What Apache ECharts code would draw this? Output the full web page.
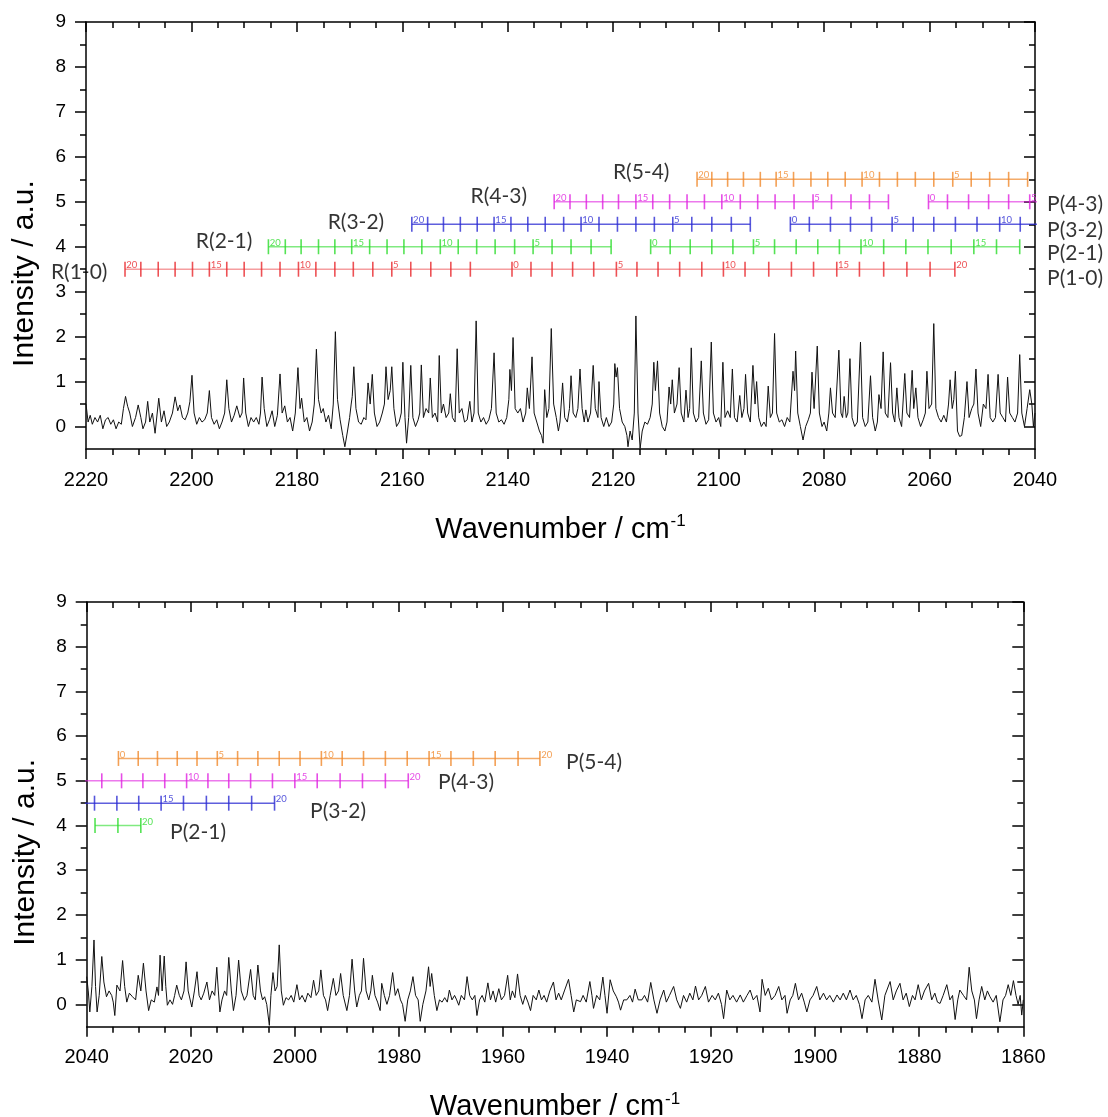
<!DOCTYPE html>
<html><head><meta charset="utf-8">
<script src="https://cdn.jsdelivr.net/npm/echarts@6/dist/echarts.min.js"></script>
<style>html,body{margin:0;padding:0;background:#fff}#c{width:1108px;height:1117px}</style>
</head><body><div id="c"></div>
<script>
// ---------------- DATA ----------------
const topSpectrum = [
[2220,0.5],[2219.6,0.1],[2219.2,0.25],[2218.8,0.05],[2218.3,0.2],[2217.8,0.1],[2217.3,0.25],[2216.8,-0.05],[2216.3,0.15],[2215.8,0.2],[2215.3,0.05],[2214.8,0.15],[2214.3,-0.05],[2213.8,0.1],[2213.3,0.05],[2212.9,0.4],[2212.5,0.67],[2212.1,0.45],[2211.7,0.3],[2211.2,0],[2210.6,0.2],[2210.1,0.48],[2209.6,0.2],[2209.2,-0.05],[2208.7,0.1],[2208.3,0.56],[2207.9,0.1],[2207.4,0.3],[2206.9,-0.15],[2206.2,0.63],[2205.7,0.1],[2205.2,0.35],[2204.7,0],[2204.2,0.1],[2203.6,0.3],[2203.1,0.66],[2202.6,0.35],[2202.2,0.48],[2201.7,0.2],[2201.2,0.15],[2200.7,0.3],[2200.3,0.55],[2199.9,1.14],[2199.5,0.3],[2199,0.05],[2198.5,0.2],[2198,0.1],[2197.5,0.15],[2197,0.3],[2196.6,0.8],[2196.2,0.2],[2195.7,0.05],[2195.2,0.15],[2194.7,-0.05],[2194.2,0.1],[2193.7,0.3],[2193.3,1.04],[2192.9,0.4],[2192.4,0.1],[2191.9,0.25],[2191.4,0.46],[2190.8,0.2],[2190.4,0.3],[2190.1,1.08],[2189.7,0.3],[2189.2,0],[2188.7,0.2],[2188.2,0.1],[2187.7,0.2],[2187.2,0.05],[2186.9,0.3],[2186.6,1.1],[2186.2,0.4],[2185.7,0],[2185.2,0.15],[2184.7,0.35],[2184.2,0],[2183.7,0.25],[2183.2,1.17],[2182.8,0.3],[2182.3,0.46],[2181.8,0.1],[2181.3,0.2],[2180.8,-0.1],[2180.3,0.3],[2179.8,1.31],[2179.4,0.4],[2179.1,0.63],[2178.6,0.1],[2178.1,0.2],[2177.6,-0.1],[2177.1,0.1],[2176.7,0.5],[2176.3,1.72],[2175.9,0.6],[2175.4,0.3],[2175,0.4],[2174.5,0.1],[2174,0.25],[2173.5,-0.05],[2173.1,0.5],[2172.7,2.11],[2172.3,0.6],[2171.8,0.15],[2171.3,-0.2],[2170.9,-0.45],[2170.4,-0.1],[2170,0.2],[2169.7,0.5],[2169.5,0.67],[2169.2,1.33],[2168.8,0.4],[2168.3,0.1],[2167.8,0.05],[2167.3,0.2],[2166.9,0.15],[2166.5,0.97],[2166.1,0.5],[2165.7,1.16],[2165.3,0.3],[2164.8,0],[2164.3,0.1],[2163.8,0.3],[2163.4,0.5],[2163.1,1.33],[2162.7,0.6],[2162.3,0.8],[2162,1.33],[2161.6,0.4],[2161.1,0],[2160.6,0.1],[2160.2,0.3],[2159.9,1.43],[2159.5,0.2],[2159.2,-0.37],[2158.8,0.2],[2158.4,1.36],[2158,0.2],[2157.5,0],[2157,0.15],[2156.7,0.3],[2156.4,1.37],[2156,0.2],[2155.5,0.4],[2155,0.3],[2154.7,1.08],[2154.3,0.2],[2153.8,0.3],[2153.3,0.1],[2153,1.58],[2152.6,0.3],[2152.2,0.5],[2151.7,0.2],[2151.2,0.3],[2150.9,0.73],[2150.5,0.2],[2150,0.1],[2149.6,1.73],[2149.2,0.3],[2148.7,0.4],[2148.2,0.1],[2147.7,0.15],[2147.2,0.56],[2146.8,0.1],[2146.4,0.3],[2146,2.35],[2145.6,0.3],[2145.1,0.1],[2144.6,0.2],[2144.1,0.05],[2143.6,0.15],[2143.1,0.4],[2142.6,1.64],[2142.2,0.3],[2141.7,0.1],[2141.2,0.15],[2140.7,0.05],[2140.2,0.2],[2139.8,0.6],[2139.6,1.27],[2139.3,0.8],[2139,1.98],[2138.6,0.4],[2138.1,0.3],[2137.6,0.4],[2137.1,0.1],[2136.6,0.3],[2136.3,0.86],[2135.9,0.4],[2135.4,1.55],[2135,0.3],[2134.5,0.1],[2134,-0.1],[2133.6,-0.2],[2133.3,-0.37],[2133,0.82],[2132.6,0.2],[2132.2,0.4],[2131.75,2.18],[2131.3,0.5],[2130.8,0.2],[2130.4,-0.1],[2130.1,0.1],[2129.6,0.97],[2129.2,0.2],[2128.7,0.1],[2128.3,0.4],[2128,1.13],[2127.6,0.3],[2127.1,0.2],[2126.7,0.4],[2126.3,1.28],[2125.9,0.4],[2125.5,0.1],[2125.2,0.37],[2124.8,0.1],[2124.3,0.3],[2123.8,1.36],[2123.4,0.4],[2122.9,0.2],[2122.7,1.0],[2122.3,0.2],[2121.8,0],[2121.3,0.2],[2120.8,0],[2120.3,0.1],[2119.9,0.5],[2119.7,1.4],[2119.45,1.1],[2119.2,1.31],[2118.8,0.4],[2118.3,0.1],[2117.8,0],[2117.4,-0.2],[2117.2,-0.45],[2116.8,-0.1],[2116.4,-0.3],[2116,0.3],[2115.7,2.46],[2115.3,0.3],[2114.9,-0.49],[2114.5,-0.1],[2114,0.1],[2113.5,0.05],[2113,0.2],[2112.6,0.5],[2112.3,1.43],[2112,0.8],[2111.6,1.46],[2111.2,0.3],[2110.7,0],[2110.2,-0.1],[2109.8,0.1],[2109.4,0.88],[2109.1,0.5],[2108.8,1.04],[2108.4,0.3],[2107.9,0.5],[2107.5,1.31],[2107.1,0.3],[2106.6,0.1],[2106.2,0.81],[2105.8,0.2],[2105.5,0.4],[2105.2,1.75],[2104.8,0.3],[2104.3,0.1],[2103.8,0.2],[2103.3,1.46],[2102.9,0.3],[2102.4,0.05],[2101.9,0.15],[2101.4,1.88],[2101,0.3],[2100.5,0.1],[2100,0.2],[2099.6,0],[2099.2,1.43],[2098.8,0.2],[2098.3,0.35],[2097.8,0.2],[2097.4,1.28],[2097,0.2],[2096.5,0.1],[2096,0.69],[2095.6,0.2],[2095.2,0.4],[2094.9,1.16],[2094.5,0.3],[2094,0.1],[2093.5,1.36],[2093.1,0.5],[2092.8,1.0],[2092.4,0.2],[2091.9,0],[2091.4,0.1],[2091,0],[2090.6,0.9],[2090.2,0.2],[2089.8,0.3],[2089.4,2.07],[2089,0.3],[2088.5,0.1],[2088,0.15],[2087.5,0],[2087,0.2],[2086.5,0.1],[2085.9,1.23],[2085.6,0.8],[2085.4,1.68],[2085,0.3],[2084.5,0],[2084,-0.3],[2083.5,0],[2083,0.15],[2082.6,0.3],[2082.3,1.21],[2081.9,0.4],[2081.3,1.79],[2080.9,0.3],[2080.4,0],[2080,0.1],[2079.5,-0.1],[2079.1,0.3],[2078.8,0.86],[2078.4,0.3],[2077.9,0.2],[2077.2,1.7],[2076.8,0.3],[2076.5,0.2],[2076.2,0.67],[2075.8,0.2],[2075.5,0.3],[2075.1,1.51],[2074.7,0.2],[2074.2,0],[2073.7,0.1],[2073.1,1.88],[2072.7,0.2],[2072.2,0],[2071.7,0.1],[2071.2,1.13],[2070.8,0.2],[2070.3,-0.1],[2069.9,0.1],[2069.6,0.71],[2069.2,0.4],[2068.8,1.66],[2068.4,0.3],[2067.9,0.2],[2067.4,1.42],[2067,0.3],[2066.6,0.1],[2066.2,0.86],[2065.8,0.2],[2065.3,0],[2064.7,1.18],[2064.3,0.3],[2063.8,0.2],[2063.3,1.25],[2063,0.4],[2062.6,0.86],[2062.2,0.2],[2061.7,0],[2061.2,0.15],[2060.8,0.3],[2060.5,1.23],[2060.1,0.4],[2059.6,0.5],[2059.2,2.29],[2058.8,0.4],[2058.3,0.2],[2057.8,0.1],[2057.3,0.25],[2056.8,0.1],[2056.4,0.5],[2056.1,1.04],[2055.7,0.4],[2055.4,0.6],[2055.1,1.23],[2054.7,-0.1],[2054.3,-0.22],[2053.9,-0.2],[2053.4,0.2],[2052.9,1.0],[2052.5,0.2],[2052,0.4],[2051.6,0.5],[2051.2,1.28],[2050.8,0.3],[2050.3,0],[2049.8,0.5],[2049.3,0.4],[2048.9,1.16],[2048.5,0.2],[2048,0.1],[2047.5,0.2],[2047,1.16],[2046.6,0.3],[2046.1,0.2],[2045.6,0.1],[2045.2,1.1],[2044.8,0.3],[2044.3,0.2],[2043.8,0.1],[2043.3,0.3],[2042.9,1.6],[2042.5,0.3],[2042,0],[2041.5,0.4],[2041,0.82],[2040.6,0.5],[2040.3,0],[2040,0.3]
];
const bottomSpectrum = [
[2040,0.62],[2039.7,0.3],[2039.4,-0.17],[2039,0.4],[2038.6,1.44],[2038.3,0.4],[2038,-0.17],[2037.6,0.2],[2037.1,1.07],[2036.7,0.5],[2036.2,0.17],[2035.7,0.3],[2035.2,0.2],[2034.9,0.05],[2034.6,-0.25],[2034.2,0.43],[2033.6,0.3],[2033.1,0.98],[2032.7,0.4],[2032.3,0.05],[2031.8,0.25],[2031.2,0.17],[2030.6,0.1],[2030.1,0.65],[2029.6,0.3],[2029.1,0.92],[2028.6,0.3],[2028.1,-0.14],[2027.6,0.1],[2027,0.05],[2026.5,0.39],[2026.2,0.2],[2025.9,1.1],[2025.5,0.3],[2025.1,1.08],[2024.8,0.4],[2024.5,-0.02],[2024,0.1],[2023.5,0],[2023.1,0.2],[2022.7,0.43],[2022.2,0.2],[2021.8,0.1],[2021.3,0.3],[2020.9,0.95],[2020.5,0.3],[2019.8,-0.06],[2019.3,0.3],[2018.8,0.73],[2018.4,0.2],[2018,0.1],[2017.5,0.25],[2016.9,0.5],[2016.4,0.1],[2015.9,0.3],[2015.4,0.2],[2015,0.83],[2014.7,0.3],[2014.4,-0.17],[2014,0.1],[2013.5,0.3],[2013.1,0.2],[2012.7,1.05],[2012.2,0.3],[2011.8,-0.14],[2011.3,0.2],[2010.8,0.99],[2010.3,0.3],[2009.7,0.09],[2009.2,0.2],[2008.5,0.78],[2008,0.2],[2007.6,0.1],[2007.1,0.88],[2006.6,0.3],[2006.2,0.1],[2005.8,0.17],[2005.4,0],[2004.9,-0.47],[2004.6,0.2],[2004.2,0.71],[2003.8,0.3],[2003.4,0.4],[2003,1.33],[2002.6,0.3],[2002.2,-0.02],[2001.7,0.15],[2001.2,0.1],[2000.7,0.2],[2000.2,0.05],[1999.6,0.44],[1999.1,0.1],[1998.6,0.2],[1998,0.05],[1997.5,0.25],[1996.9,0.15],[1996.4,0.54],[1995.9,0.2],[1995.4,0.3],[1995,0.77],[1994.5,0.2],[1994.1,0.1],[1993.7,-0.14],[1993.2,0.2],[1992.6,0.58],[1992.1,0.2],[1991.6,0.3],[1991.2,0.69],[1990.7,0.2],[1990,-0.14],[1989.5,0.2],[1989,1.01],[1988.5,0.3],[1988.1,-0.06],[1987.6,0.2],[1987.2,0.3],[1986.8,1.03],[1986.3,0.3],[1985.8,0.1],[1985.4,0.3],[1985.1,0.65],[1984.6,0.2],[1984.1,0.05],[1983.6,-0.14],[1983.3,0.47],[1982.8,0.2],[1982.3,0],[1981.8,0.2],[1981.2,0.71],[1980.7,0.2],[1980.2,0.35],[1979.7,0.1],[1979.3,0],[1978.8,-0.38],[1978.3,0.1],[1977.8,0.3],[1977.3,0.62],[1976.8,0.2],[1976.3,0.1],[1975.9,-0.38],[1975.4,0],[1974.8,0.3],[1974.3,0.84],[1974,0.4],[1973.7,0.69],[1973.2,0.2],[1972.7,-0.14],[1972.2,0.1],[1971.7,0.05],[1971.2,0.15],[1970.7,0.05],[1970.3,0.32],[1969.8,0.1],[1969.3,0.2],[1968.9,0.1],[1968.5,-0.02],[1968,0.2],[1967.4,0.1],[1966.9,0.62],[1966.4,0.2],[1965.9,0.1],[1965.4,0.2],[1965,-0.25],[1964.5,0.1],[1964,0.2],[1963.5,0.05],[1962.9,0.48],[1962.4,0.1],[1961.9,0.3],[1961.4,0.05],[1960.8,0.35],[1960.3,0.1],[1959.7,0.2],[1959.1,0.65],[1958.6,0.1],[1958.2,0.3],[1957.7,0.15],[1957.2,0.68],[1956.7,0.2],[1956.2,0],[1955.7,0.2],[1955.2,0.05],[1954.7,-0.14],[1954.2,0.2],[1953.6,0.1],[1953.1,0.32],[1952.6,0.1],[1952.1,0.2],[1951.6,0.05],[1951,0.3],[1950.3,0.5],[1949.8,0.1],[1949.3,0.25],[1948.8,0.1],[1948.2,0.3],[1947.4,0.56],[1946.9,0.2],[1946.4,-0.17],[1945.9,0.1],[1945.1,0.06],[1944.6,0.2],[1944,0.05],[1943.3,0.51],[1942.9,0.2],[1942.6,-0.09],[1942,0.2],[1941.4,0.1],[1940.8,0.61],[1940.4,0.2],[1940,-0.2],[1939.4,0.55],[1938.8,0.3],[1938.2,0.17],[1937.8,0.05],[1937.4,-0.13],[1936.8,0.1],[1936.2,0.1],[1935.6,0.2],[1935.1,0.05],[1934.6,0.34],[1934,0.1],[1933.3,0.1],[1932.8,0.2],[1932.2,0.05],[1931.6,0.49],[1931,0.1],[1930.4,-0.2],[1929.8,0.1],[1929.1,0.32],[1928.6,0.05],[1928,0.2],[1927.2,0.4],[1926.6,0.1],[1925.9,-0.09],[1925.3,0.2],[1924.7,0.05],[1924.1,0.25],[1923.5,0.1],[1923,0.41],[1922.4,0.1],[1921.8,0.2],[1921.1,0.4],[1920.5,0.05],[1919.8,0.2],[1919.2,0.1],[1918.6,0.25],[1918,0],[1917.6,-0.32],[1917,0.32],[1916.4,0.1],[1915.8,0.2],[1915.1,0.05],[1914.4,0.21],[1913.8,0.05],[1913.1,0.2],[1912.5,0.32],[1911.9,0.1],[1911.2,0.2],[1910.6,-0.17],[1910.2,0.56],[1909.6,0.2],[1909,0.36],[1908.4,0.1],[1907.7,0.2],[1907,0.4],[1906.4,0.1],[1905.8,0.2],[1905.4,-0.2],[1904.8,0.1],[1904.3,0.2],[1903.8,0.47],[1903.2,0.1],[1902.6,0.25],[1902.1,0.05],[1901.6,-0.17],[1901,0.1],[1900.4,0.2],[1899.7,0.4],[1899.1,0.1],[1898.4,0.25],[1897.8,0.1],[1897.2,0.2],[1896.5,0.05],[1895.8,0.21],[1895.2,0.1],[1894.6,0.25],[1894,0.1],[1893.3,0.32],[1892.7,0.1],[1892.1,0.2],[1891.5,0],[1891,-0.32],[1890.4,0.1],[1889.8,0.2],[1889.1,0.05],[1888.5,0.56],[1887.9,0.1],[1887.2,-0.35],[1886.6,0.2],[1885.6,0.51],[1885,0.1],[1884.4,0.3],[1883.7,0.47],[1883.1,0.1],[1882.5,0.25],[1881.9,-0.05],[1881.3,0.2],[1880.8,0.1],[1880.2,0.44],[1879.6,0.1],[1879,0.3],[1878.2,0.47],[1877.6,0.1],[1877,0.25],[1876.5,0.05],[1876,0.02],[1875.4,0.2],[1874.7,0.44],[1874.1,0.1],[1873.6,0.2],[1873.1,-0.34],[1872.6,0.1],[1872.2,0.32],[1871.5,0.2],[1870.9,0.1],[1870.4,0.83],[1869.9,0.3],[1869.4,0.1],[1869,-0.32],[1868.5,0.1],[1868,0.4],[1867.4,0.1],[1866.9,0.3],[1866.4,0.17],[1865.8,0.05],[1865.2,0.2],[1864.5,-0.39],[1863.9,0.1],[1863.4,0.2],[1862.9,0.44],[1862.4,0.2],[1861.9,0.53],[1861.4,0.2],[1861,0],[1860.6,0.2],[1860.3,-0.24],[1860,0.1]
];

// Band ladders: R branch listed from the "20" mark downwards, P branch from the "0" mark upwards
const bandNames = ['1-0','2-1','3-2','4-3','5-4'];
const bandRowY  = [3.5, 4.0, 4.5, 5.0, 5.5];
const r10 = [2212.6,2209.6,2206.3,2203.1,2199.8,2196.6,2193.3,2190.0,2186.7,2183.2,2179.7,2176.4,2172.8,2169.3,2165.6,2162.0,2158.4,2154.6,2150.8,2147.1];
const p10 = [2139.2,2135.6,2131.6,2127.7,2123.7,2119.4,2115.5,2111.5,2107.4,2103.2,2099.1,2095.0,2090.5,2086.2,2082.0,2077.6,2073.3,2068.7,2064.3,2059.9,2055.2];
const r21 = [2185.4,2182.2,2179.2,2175.9,2172.8,2169.6,2166.2,2162.9,2159.7,2156.3,2152.8,2149.4,2145.9,2142.4,2138.7,2135.2,2131.6,2128.0,2124.2,2120.4];
const p21 = [2112.9,2109.2,2105.4,2101.3,2097.3,2093.4,2089.4,2085.3,2081.2,2077.1,2073.0,2068.7,2064.5,2060.3,2055.9,2051.6,2047.3,2042.9,2038.4,2034.0,2029.6];
const r32 = [2158.2,2155.2,2152.2,2149.0,2145.8,2142.6,2139.4,2136.2,2132.9,2129.4,2126.1,2122.7,2119.2,2115.7,2112.2,2108.7,2105.1,2101.3,2097.6,2094.0];
const p32 = [2086.4,2082.8,2078.8,2075.0,2071.0,2067.1,2063.1,2059.2,2055.1,2051.0,2046.7,2042.8,2038.5,2034.2,2030.0,2025.7,2021.4,2017.0,2012.7,2008.3,2003.9];
const r43 = [2131.2,2128.2,2125.1,2122.0,2119.0,2115.7,2112.5,2109.3,2106.0,2102.7,2099.4,2095.9,2092.6,2089.3,2085.7,2082.1,2078.6,2074.9,2071.4,2067.8];
const p43 = [2060.2,2056.6,2052.6,2048.8,2045.0,2041.0,2037.1,2033.3,2029.2,2025.0,2020.8,2016.7,2012.7,2008.5,2004.3,2000.0,1995.7,1991.3,1987.0,1982.6,1978.2];
const r54 = [2104.1,2101.3,2098.3,2095.3,2092.1,2089.1,2085.8,2082.5,2079.3,2076.0,2072.8,2069.5,2066.1,2062.7,2059.2,2055.6,2052.1,2048.6,2045.0,2041.4];
const p54 = [2033.9,2030.1,2026.4,2022.6,2018.8,2014.9,2011.0,2007.1,2003.0,1999.0,1994.9,1990.9,1986.8,1982.6,1978.4,1974.2,1970.0,1965.7,1961.5,1957.1,1952.9];
// horizontal ladder lines (wavenumber ranges)
const seg10 = [[2212.6,2055.2]];
const seg21 = [[2185.4,2120.4],[2112.9,2042.9],[2038.4,2029.6]];
const seg32 = [[2158.2,2094.0],[2086.4,2003.9]];
const seg43 = [[2131.2,2067.8],[2060.2,1978.2]];
const seg54 = [[2104.1,2041.4],[2033.9,1952.9]];
// band titles: [text, wavenumber, intensity]
const topTitles = [['R(1-0)',2221.3,3.43],['R(2-1)',2193.8,4.12],['R(3-2)',2168.8,4.55],['R(4-3)',2141.7,5.13],['R(5-4)',2114.7,5.65],
                   ['P(1-0)',2032.4,3.30],['P(2-1)',2032.4,3.86],['P(3-2)',2032.4,4.37],['P(4-3)',2032.4,4.95]];
const bottomTitles = [['P(5-4)',1942.5,5.42],['P(4-3)',1967.1,4.97],['P(3-2)',1991.7,4.31],['P(2-1)',2018.6,3.86]];
const yTickValues = [0,1,2,3,4,5,6,7,8,9];
const yMinorValues = [0.5,1.5,2.5,3.5,4.5,5.5,6.5,7.5,8.5];

// ---------------- STYLE ----------------
const BLACK = '#000';
const tickColors = ['#e8262b','#2bdc2b','#2a2ad2','#e020e0','#f0882a'];
const lineColors = ['rgba(232,38,43,0.45)','rgba(43,220,43,0.6)','rgba(42,42,210,0.75)','rgba(224,32,224,0.6)','rgba(240,136,42,0.7)'];
const bandR = [r10,r21,r32,r43,r54];
const bandP = [p10,p21,p32,p43,p54];
const bandSeg = [seg10,seg21,seg32,seg43,seg54];
const AX_LINE = {color:BLACK, width:1.5};
const LABEL_FONT = 'Liberation Sans';

function xAxesFor(gridIndex, min, max) {
  const common = {gridIndex, type:'value', min, max, interval:20, inverse:true, splitLine:{show:false}};
  return [
    Object.assign({}, common, {
      position:'bottom',
      axisLine:{onZero:false, lineStyle:AX_LINE},
      axisTick:{length:10, lineStyle:AX_LINE},
      minorTick:{show:true, splitNumber:4, length:6, lineStyle:AX_LINE},
      axisLabel:{fontSize:20, color:BLACK, margin:21, fontFamily:LABEL_FONT, formatter:v => String(v)},
      name:'Wavenumber / cm{sup|-1}', nameLocation:'middle', nameGap:64,
      nameTextStyle:{fontSize:29, color:BLACK, fontFamily:LABEL_FONT,
        rich:{sup:{fontSize:17, color:BLACK, fontFamily:LABEL_FONT, padding:[0,0,16,1]}}}
    }),
    Object.assign({}, common, {
      position:'top',
      axisLine:{onZero:false, lineStyle:AX_LINE},
      axisTick:{inside:true, length:10, lineStyle:AX_LINE},
      minorTick:{show:true, splitNumber:4, length:6, lineStyle:AX_LINE},
      axisLabel:{show:false}
    })
  ];
}
function yAxesFor(gridIndex) {
  const base = {gridIndex, type:'value', min:-0.5, max:9, splitLine:{show:false}};
  return [
    Object.assign({}, base, {position:'left', axisLine:{show:true, onZero:false, lineStyle:AX_LINE},
      axisTick:{customValues:yTickValues, length:11, lineStyle:AX_LINE},
      axisLabel:{customValues:yTickValues, fontSize:19, color:BLACK, margin:20, fontFamily:LABEL_FONT},
      name:'Intensity / a.u.', nameLocation:'middle', nameGap:46, nameRotate:90,
      nameTextStyle:{fontSize:30, color:BLACK, fontFamily:LABEL_FONT, padding:[0,76,0,0]}}),
    Object.assign({}, base, {position:'left', axisLine:{show:false, onZero:false},
      axisTick:{customValues:yMinorValues, length:6, lineStyle:AX_LINE}, axisLabel:{show:false}}),
    Object.assign({}, base, {position:'right', axisLine:{show:true, onZero:false, lineStyle:AX_LINE},
      axisTick:{customValues:yTickValues, inside:true, length:11, lineStyle:AX_LINE}, axisLabel:{show:false}}),
    Object.assign({}, base, {position:'right', axisLine:{show:false, onZero:false},
      axisTick:{customValues:yMinorValues, inside:true, length:6, lineStyle:AX_LINE}, axisLabel:{show:false}})
  ];
}

const series = [];
function addPanel(xi, yi, spectrum, titles) {
  series.push({type:'line', xAxisIndex:xi, yAxisIndex:yi, data:spectrum, symbol:'none',
    lineStyle:{color:'#111', width:1}, clip:true, z:2, silent:true});
  bandNames.forEach((nm, k) => {
    const y = bandRowY[k];
    const segData = [];
    bandSeg[k].forEach(s => { segData.push([s[0], y], [s[1], y], ['-', '-']); });
    series.push({type:'line', xAxisIndex:xi, yAxisIndex:yi, data:segData, symbol:'none',
      connectNulls:false, lineStyle:{color:lineColors[k], width:1.5}, clip:true, z:3, silent:true});
    const ticks = [];
    bandR[k].forEach((w, i) => {
      const item = {value:[w, y]};
      if (i % 5 === 0) item.label = {show:true, formatter:String(20 - i)};
      ticks.push(item);
    });
    bandP[k].forEach((w, i) => {
      const item = {value:[w, y]};
      if (i % 5 === 0) item.label = {show:true, formatter:String(i)};
      ticks.push(item);
    });
    series.push({type:'scatter', xAxisIndex:xi, yAxisIndex:yi, data:ticks, symbol:'rect',
      symbolSize:[1.6, 15], itemStyle:{color:tickColors[k]}, clip:true, z:4, silent:true,
      label:{show:false, position:'right', distance:0, offset:[0.5,-4], fontSize:9.5,
        fontFamily:'Lato', color:tickColors[k]}});
  });
  series.push({type:'scatter', xAxisIndex:xi, yAxisIndex:yi, symbolSize:1, clip:false, z:5, silent:true,
    itemStyle:{color:'rgba(0,0,0,0)'},
    data:titles.map(t => ({value:[t[1], t[2]], label:{show:true, formatter:t[0]}})),
    label:{show:true, position:'inside', fontSize:21, fontFamily:'Lato', color:BLACK}});
}
addPanel(0, 0, topSpectrum, topTitles);
addPanel(2, 4, bottomSpectrum, bottomTitles);

const chart = echarts.init(document.getElementById('c'), null, {renderer:'canvas'});
chart.setOption({
  animation:false,
  backgroundColor:'#fff',
  textStyle:{fontFamily:LABEL_FONT},
  grid:[
    {left:86, top:22, width:949, height:427, outerBoundsMode:'none', containLabel:false},
    {left:86.7, top:602, width:936.6, height:424.7, outerBoundsMode:'none', containLabel:false}
  ],
  xAxis: xAxesFor(0, 2040, 2220).concat(xAxesFor(1, 1860, 2040)),
  yAxis: yAxesFor(0).concat(yAxesFor(1)),
  series
});
</script>
</body></html>
